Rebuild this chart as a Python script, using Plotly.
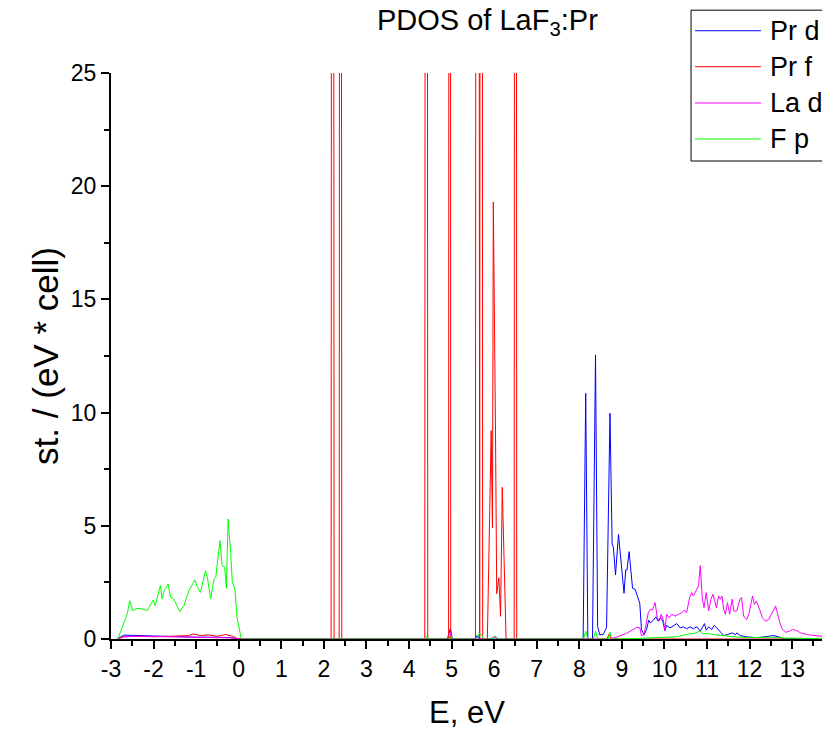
import plotly.graph_objects as go

# Pr d (blue)
pr_d_e = [-2.85, -2.7, -2.5, -2.2, -2.0, -1.5, -1.0, -0.5, -0.2, 0.0,
          4.9, 4.97, 5.02, 5.55, 5.6, 5.65, 8.05,
          8.09, 8.15, 8.20, 8.31, 8.38, 8.43, 8.48, 8.56, 8.64, 8.72, 8.77, 8.80,
          8.85, 8.92, 8.95, 9.05, 9.09, 9.12, 9.17, 9.21, 9.25, 9.31, 9.37, 9.42,
          9.46, 9.52, 9.58, 9.63, 9.67, 9.74, 9.80, 9.85, 9.91, 9.96, 10.01, 10.05,
          10.13, 10.21, 10.29, 10.37, 10.44, 10.52, 10.60, 10.68, 10.76, 10.84,
          10.89, 10.94, 10.98, 11.04, 11.11, 11.17, 11.23, 11.31, 11.39, 11.47,
          11.59, 11.67, 11.70, 11.78, 11.94, 12.18, 12.49, 12.57, 12.69, 12.81, 13.7]
pr_d_v = [0.0, 0.17, 0.16, 0.14, 0.12, 0.1, 0.08, 0.08, 0.06, 0.0,
          0.0, 0.45, 0.0, 0.0, 0.15, 0.0, 0.0,
          0.0, 10.85, 0.0, 0.0, 12.55, 0.55, 0.18, 0.2, 0.5, 9.97, 4.2, 4.05,
          2.83, 4.62, 3.93, 2.02, 3.05, 3.05, 3.86, 3.05, 2.24, 2.2, 1.87, 1.58,
          0.42, 0.19, 0.42, 0.83, 0.71, 0.83, 0.98, 0.79, 0.94, 0.79, 0.37, 0.6,
          0.49, 0.57, 0.68, 0.49, 0.54, 0.45, 0.54, 0.45, 0.54, 0.34,
          0.49, 0.68, 0.39, 0.54, 0.42, 0.6, 0.49, 0.34, 0.15, 0.19,
          0.27, 0.19, 0.27, 0.15, 0.09, 0.06, 0.12, 0.15, 0.09, 0.01, 0.01]

# Pr f (red)
pr_f_e = [-2.85, -2.7, -2.4, -2.0, -1.6, -1.2, -1.05, -0.9, -0.7, -0.5, -0.3, -0.15, 0.0,
          2.17, 2.205, 2.24, 2.36, 2.39, 2.42, 4.37, 4.405, 4.44, 4.93, 4.955, 4.98,
          5.56, 5.60, 5.645, 5.66, 5.695, 5.73,
          5.84, 5.93, 5.96, 5.98, 6.03, 6.06, 6.11, 6.15, 6.19, 6.28,
          6.47, 6.50, 6.53, 8.65, 8.70, 8.75, 13.7]
pr_f_v = [0.0, 0.1, 0.12, 0.1, 0.12, 0.15, 0.22, 0.15, 0.18, 0.12, 0.2, 0.12, 0.0,
          0.0, 150, 0.0, 0.0, 150, 0.0, 0.0, 150, 0.0, 0.0, 150, 0.0,
          0.0, 150, 0.0, 0.0, 150, 0.0,
          0.0, 9.2, 4.9, 19.3, 9.45, 2.0, 2.7, 1.0, 6.7, 0.0,
          0.0, 150, 0.0, 0.0, 0.22, 0.0, 0.0]

# La d (magenta)
la_d_e = [-2.85, -2.7, -2.3, -1.8, -1.2, -0.6, -0.2, 0.0,
          4.95, 4.98, 5.01, 5.9, 6.0, 6.1, 8.7, 8.9, 9.11, 9.25, 9.35, 9.42,
          9.46, 9.52, 9.56, 9.62, 9.67, 9.72, 9.78, 9.83, 9.88, 9.92, 9.97, 10.01,
          10.05, 10.11, 10.17, 10.25, 10.33, 10.41, 10.47, 10.52, 10.59, 10.64,
          10.68, 10.74, 10.80, 10.84, 10.86, 10.89, 10.93, 10.98, 11.04, 11.09,
          11.14, 11.18, 11.22, 11.27, 11.31, 11.35, 11.39, 11.43, 11.48, 11.53,
          11.59, 11.63, 11.70, 11.77, 11.81, 11.86, 11.93, 11.98, 12.04, 12.07,
          12.11, 12.16, 12.22, 12.30, 12.37, 12.45, 12.51, 12.57, 12.61, 12.65,
          12.71, 12.77, 12.85, 12.93, 13.01, 13.08, 13.20, 13.36, 13.52, 13.7]
la_d_v = [0.0, 0.1, 0.12, 0.1, 0.08, 0.08, 0.05, 0.0,
          0.0, 0.3, 0.0, 0.0, 0.1, 0.0, 0.0, 0.1, 0.25, 0.4, 0.52, 0.5,
          0.15, 0.19, 0.64, 1.16, 1.31, 1.28, 1.61, 0.94, 0.79, 1.09, 0.86, 0.42,
          1.09, 0.94, 1.09, 1.01, 1.09, 1.16, 1.28, 1.16, 1.83, 2.05,
          1.9, 2.13, 2.35, 3.24, 2.35, 1.76, 1.38, 2.05, 1.24, 1.76,
          1.98, 1.61, 1.38, 1.9, 1.76, 1.9, 1.31, 1.09, 1.61, 1.09,
          1.76, 1.24, 1.24, 1.76, 1.83, 1.01, 0.86, 1.09, 1.76, 1.9,
          1.53, 1.68, 1.38, 0.94, 0.79, 0.86, 1.09, 1.34, 1.46, 1.16,
          0.71, 0.42, 0.3, 0.34, 0.42, 0.39, 0.27, 0.19, 0.15, 0.12]

# F p (green)
f_p_e = [-2.84, -2.62, -2.56, -2.49, -2.39, -2.27, -2.15, -2.07, -2.01, -1.96,
         -1.90, -1.84, -1.80, -1.75, -1.70, -1.66, -1.60, -1.53, -1.38, -1.29,
         -1.17, -1.03, -0.98, -0.90, -0.78, -0.73, -0.66, -0.58, -0.54, -0.44,
         -0.39, -0.33, -0.29, -0.25, -0.19, -0.15, -0.09, -0.04, 0.06,
         4.38, 4.42, 4.46, 4.95, 5.0, 5.05, 5.6, 5.65, 5.7, 5.75, 5.95, 6.0, 6.05, 6.1,
         8.1, 8.15, 8.2, 8.33, 8.38, 8.43, 8.68, 8.72, 8.76, 9.3, 9.6, 10.0, 10.3,
         10.5, 10.7, 10.84, 10.9, 11.0, 11.2, 11.4, 11.6, 12.0, 12.5, 12.8, 13.7]
f_p_v = [0.0, 1.1, 1.69, 1.25, 1.35, 1.33, 1.25, 1.5, 1.72, 1.47,
         1.91, 2.36, 1.77, 2.14, 2.28, 2.43, 1.84, 1.77, 1.21, 1.47,
         2.14, 2.61, 2.33, 2.06, 3.02, 2.65, 1.77, 2.65, 2.72, 4.34,
         3.24, 3.17, 2.24, 5.3, 3.83, 2.5, 2.21, 0.96, 0.0,
         0.0, 0.15, 0.0, 0.0, 0.12, 0.0, 0.0, 0.25, 0.2, 0.0, 0.0, 0.12, 0.1, 0.0,
         0.0, 0.35, 0.0, 0.0, 0.35, 0.0, 0.0, 0.3, 0.0, 0.02, 0.05, 0.08, 0.1,
         0.2, 0.25, 0.35, 0.22, 0.25, 0.18, 0.15, 0.1, 0.06, 0.08, 0.04, 0.02]

series = [
    ("Pr d", pr_d_e, pr_d_v, "#0000ff"),
    ("Pr f", pr_f_e, pr_f_v, "#ff0000"),
    ("La d", la_d_e, la_d_v, "#ff00ff"),
    ("F p", f_p_e, f_p_v, "#00ff00"),
]

x_ticks = list(range(-3, 14))
x_tick_text = [str(t) for t in x_ticks]
y_ticks = [0, 5, 10, 15, 20, 25]

FONT = "Liberation Sans, Arial, sans-serif"

fig = go.Figure()
for name, e, v, color in series:
    fig.add_trace(go.Scatter(x=e, y=v, mode="lines", name=name,
                             line=dict(color=color, width=1), showlegend=False))

axis_style = dict(showgrid=False, zeroline=False, showline=True, linecolor="black",
                  linewidth=2, ticks="outside", ticklen=8, tickwidth=2, tickcolor="black",
                  tickfont=dict(size=23, color="black", family=FONT))

fig.update_xaxes(range=[-3, 13.7], tickmode="array", tickvals=x_ticks, ticktext=x_tick_text,
                 minor=dict(tickmode="linear", tick0=-3, dtick=0.5, ticks="outside",
                            ticklen=5, tickwidth=2, tickcolor="black"),
                 **axis_style)
fig.update_yaxes(range=[0, 25], tickmode="array", tickvals=y_ticks,
                 minor=dict(tickmode="linear", tick0=0, dtick=2.5, ticks="outside",
                            ticklen=5, tickwidth=2, tickcolor="black"),
                 **axis_style)

# legend box drawn by hand (clipped by right edge like the original)
leg_y = [1.0747, 1.0111, 0.9470, 0.8834]
shapes = [dict(type="rect", xref="paper", yref="paper", x0=0.8158, x1=1.06,
               y0=0.8445, y1=1.111, line=dict(color="black", width=1),
               fillcolor="white", layer="above")]
annotations = []
for (name, _, _, color), ly in zip(series, leg_y):
    shapes.append(dict(type="line", xref="paper", yref="paper", x0=0.8214, x1=0.9142,
                       y0=ly, y1=ly, line=dict(color=color, width=1)))
    annotations.append(dict(text=name, xref="paper", yref="paper", x=0.924, y=ly,
                            xanchor="left", yanchor="middle", showarrow=False,
                            font=dict(size=27, color="black", family=FONT)))

annotations += [
    dict(text="PDOS of LaF<sub>3</sub>:Pr", xref="paper", yref="paper", x=0.530, y=1.09,
         xanchor="center", yanchor="middle", showarrow=False,
         font=dict(size=29, color="black", family=FONT)),
    dict(text="E, eV", xref="paper", yref="paper", x=0.50, y=-0.13,
         xanchor="center", yanchor="middle", showarrow=False,
         font=dict(size=31, color="black", family=FONT)),
    dict(text="st. / (eV * cell)", xref="paper", yref="paper", x=-0.093, y=0.5,
         xanchor="center", yanchor="middle", textangle=-90, showarrow=False,
         font=dict(size=35, color="black", family=FONT)),
]

fig.update_layout(
    width=822, height=729,
    margin=dict(l=111, r=0, t=73, b=90, autoexpand=False),
    plot_bgcolor="white", paper_bgcolor="white",
    shapes=shapes, annotations=annotations,
    showlegend=False,
)

# drop the default page margin so the figure fills the window exactly
fig.write_html("out.html", config={"displayModeBar": False},
               post_script="document.body.style.margin='0';document.body.style.overflow='hidden';")
